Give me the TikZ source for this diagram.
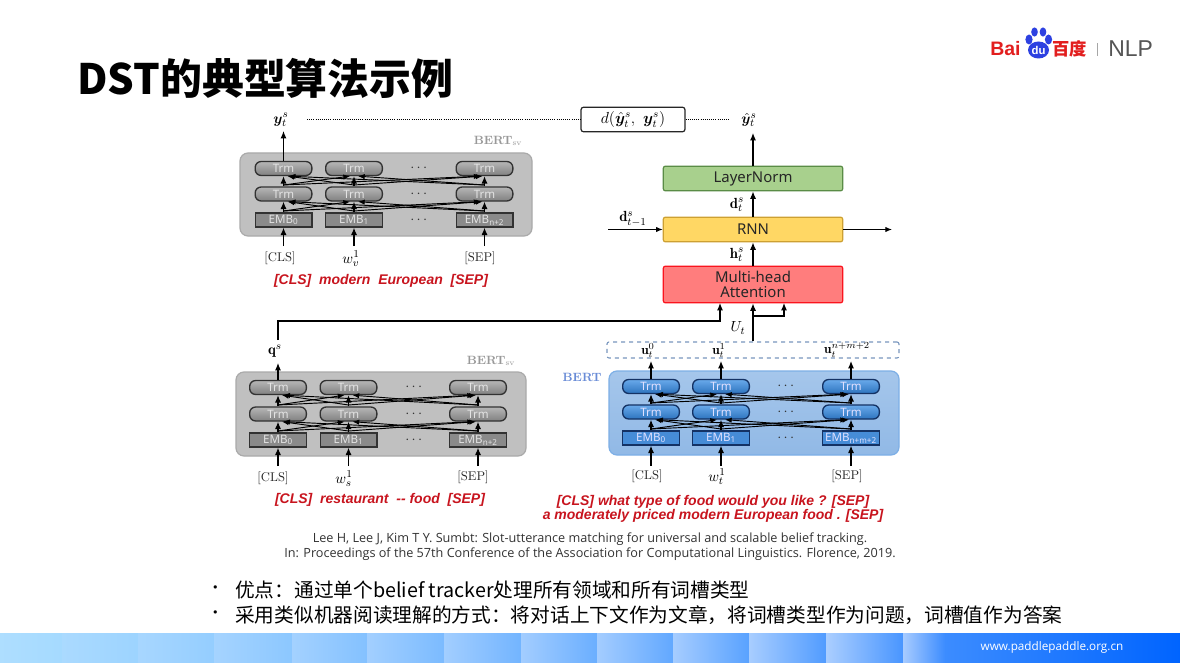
\documentclass[tikz,border=0pt]{standalone}
\usepackage{amsmath,bm}
\usepackage{fontspec}
\usetikzlibrary{arrows.meta,calc}
\newfontfamily\cjkfont{Noto Sans CJK SC}
\newfontfamily\labfont{Noto Sans}
\newfontfamily\arialfont{Liberation Sans}
\newfontfamily\citefont{Open Sans}
\definecolor{redtxt}{RGB}{200,20,30}
\definecolor{grayP}{RGB}{192,192,192}
\definecolor{grayPb}{RGB}{170,170,170}
\definecolor{grayT}{RGB}{158,158,158}
\definecolor{grayB}{RGB}{128,128,128}
\definecolor{grayE}{RGB}{138,138,138}
\definecolor{blueT}{RGB}{105,170,235}
\definecolor{blueB}{RGB}{45,115,190}
\definecolor{blueE}{RGB}{70,140,215}
\definecolor{blueP}{RGB}{165,198,235}
\definecolor{bluePb}{RGB}{125,175,230}
\definecolor{blueQ}{RGB}{145,185,230}
\definecolor{blueD}{RGB}{120,150,190}
\definecolor{blueL}{RGB}{105,140,215}
\definecolor{inkgray}{RGB}{50,50,50}
\definecolor{inkblue}{RGB}{20,50,100}
\definecolor{baiduRed}{RGB}{226,30,30}
\definecolor{baiduBlue}{RGB}{45,65,225}
\definecolor{nlpGray}{RGB}{85,85,85}
\definecolor{stripA}{RGB}{165,218,255}
\definecolor{stripB}{RGB}{60,140,255}
\definecolor{stripC}{RGB}{0,100,255}
\definecolor{mhaF}{RGB}{255,125,125}
\definecolor{mhaD}{RGB}{250,20,30}
\definecolor{rnnF}{RGB}{255,215,100}
\definecolor{rnnD}{RGB}{205,160,50}
\definecolor{lnF}{RGB}{168,208,141}
\definecolor{lnD}{RGB}{90,140,70}
\tikzset{
  arr/.style={draw=black,line width=0.85pt,-{Latex[length=5.5pt,width=4.5pt]}},
  thin arr/.style={draw=black,line width=0.7pt,-{Latex[length=5pt,width=4pt]}},
  trm gray/.style={draw=inkgray,line width=1pt,rounded corners=4.5pt,top color=grayT!75!white,bottom color=grayB,minimum width=42.5pt,minimum height=10.5pt,inner sep=0pt,text=white!78!gray,font=\labfont\fontsize{8.7}{9}\selectfont},
  emb gray/.style={draw=inkgray,line width=1pt,fill=grayE,minimum width=42.5pt,minimum height=10.5pt,inner sep=0pt,text=white!78!gray,font=\labfont\fontsize{8.7}{9}\selectfont},
  trm blue/.style={draw=inkblue,line width=1pt,rounded corners=4.5pt,top color=blueT,bottom color=blueB,minimum width=42.5pt,minimum height=10.5pt,inner sep=0pt,text=white!88!blue,font=\labfont\fontsize{8.7}{9}\selectfont},
  emb blue/.style={draw=inkblue,line width=1pt,fill=blueE,minimum width=42.5pt,minimum height=10.5pt,inner sep=0pt,text=white!88!blue,font=\labfont\fontsize{8.7}{9}\selectfont},
  gray panel/.style={draw=grayPb,line width=0.9pt,rounded corners=6pt,fill=grayP},
  blue panel/.style={draw=bluePb,line width=0.9pt,rounded corners=6pt,top color=blueP,bottom color=blueQ},
  serif lab/.style={font=\fontsize{9.5}{10}\selectfont,text=black!85,inner sep=0pt},
  bert lab/.style={font=\fontsize{9}{10}\selectfont\bfseries,inner sep=0pt},
  red lab/.style={font=\arialfont\bfseries\itshape\fontsize{10.5}{10.6}\selectfont,text=redtxt,inner sep=0pt,align=center},
  math lab/.style={inner sep=0pt,font=\fontsize{11}{12}\selectfont},
  small math/.style={inner sep=0pt,font=\fontsize{10}{11}\selectfont},
  dots lab/.style={inner sep=0pt,font=\fontsize{11}{12}\selectfont,text=inkgray},
  main box/.style={line width=0.9pt,rounded corners=1.5pt,minimum width=134.5pt,inner sep=0pt,align=center,text=black!85,font=\labfont\fontsize{11.2}{10.8}\selectfont},
}
% #1 prefix, #2-#4 column x, #5-#7 row y, #8 colour word, #9 last EMB label
\newcommand{\bertblock}[9]{%
  \node[trm #8] (#1a3) at (#2,#5) {Trm};
  \node[trm #8] (#1b3) at (#3,#5) {Trm};
  \node[trm #8] (#1c3) at (#4,#5) {Trm};
  \node[trm #8] (#1a2) at (#2,#6) {Trm};
  \node[trm #8] (#1b2) at (#3,#6) {Trm};
  \node[trm #8] (#1c2) at (#4,#6) {Trm};
  \node[emb #8] (#1a1) at (#2,#7) {EMB\textsubscript{0}};
  \node[emb #8] (#1b1) at (#3,#7) {EMB\textsubscript{1}};
  \node[emb #8] (#1c1) at (#4,#7) {EMB\textsubscript{#9}};
  \foreach \lo/\hi in {1/2,2/3}{
    \draw[arr] (#1a\lo.north) -- (#1a\hi.south);
    \draw[arr] (#1b\lo.north) -- (#1b\hi.south);
    \draw[arr] (#1c\lo.north) -- (#1c\hi.south);
    \draw[thin arr] ([yshift=1pt]#1a\lo.north) -- ([xshift=-3pt]#1b\hi.south);
    \draw[thin arr] ([yshift=1pt]#1a\lo.north) -- ([xshift=-3pt]#1c\hi.south);
    \draw[thin arr] ([yshift=1pt]#1b\lo.north) -- ([xshift=3pt]#1a\hi.south);
    \draw[thin arr] ([yshift=1pt]#1b\lo.north) -- ([xshift=-1.5pt]#1c\hi.south);
    \draw[thin arr] ([yshift=1pt]#1c\lo.north) -- ([xshift=4pt]#1a\hi.south);
    \draw[thin arr] ([yshift=1pt]#1c\lo.north) -- ([xshift=3pt]#1b\hi.south);
  }
}
\begin{document}
\begin{tikzpicture}[x=0.75pt,y=-0.75pt]
\useasboundingbox (0,0) rectangle (1180,663);
\fill[white] (0,0) rectangle (1180,663);
% footer strip
\foreach \xa/\xb/\t/\l in {0/62/100/90,62/138/92/86,138/214/84/82,214/292/76/78,292/367/68/74,367/444/60/70,444/521/52/66,521/597/44/62,597/673/36/58,673/749/28/54,749/826/20/50,826/903/12/46}{
  \colorlet{segbase}{stripA!\t!stripB}
  \shade[left color=segbase!\l!white,right color=segbase] (\xa,633) rectangle (\xb,663);
}
\shade[left color=stripB!45!white,right color=stripB] (903,633) rectangle (945,663);
\shade[left color=stripB,right color=stripC] (945,633) rectangle (1180,663);
\node[inner sep=0pt,text=white,font=\citefont\fontsize{8.8}{9}\selectfont] (site) at (1052,647) {www.paddlepaddle.org.cn};
% title
\node[anchor=west,inner sep=0pt,font=\cjkfont\bfseries\fontsize{31.4}{36}\selectfont] (title) at (77,78) {DST的典型算法示例};
% logo
\node[anchor=west,inner sep=0pt,text=baiduRed,font=\arialfont\bfseries\fontsize{14.6}{16}\selectfont] (bai) at (990,49) {Bai};
\fill[baiduBlue] (1038.5,50) ellipse (10.5 and 8.5);
\fill[baiduBlue] (1029,39.5) ellipse (3.6 and 5);
\fill[baiduBlue] (1034.5,32) ellipse (3.3 and 4.6);
\fill[baiduBlue] (1043,32) ellipse (3.3 and 4.6);
\fill[baiduBlue] (1048.5,39.5) ellipse (3.6 and 5);
\node[inner sep=0pt,text=white,font=\arialfont\bfseries\fontsize{8.5}{9}\selectfont] (du) at (1038.5,50) {du};
\node[anchor=west,inner sep=0pt,text=baiduRed,font=\cjkfont\bfseries\fontsize{13}{15}\selectfont] (baidu) at (1052,49) {百度};
\fill[gray!70] (1096.5,43) rectangle (1098,56);
\node[anchor=west,inner sep=0pt,text=nlpGray,font=\arialfont\fontsize{17.2}{18}\selectfont] (nlp) at (1108,49) {NLP};
% panels
\draw[gray panel] (240,153) rectangle (532,236);
\draw[gray panel] (236,372) rectangle (526,456);
\draw[blue panel] (609,371) rectangle (899,455);
% BERT blocks
\bertblock{A}{283.5}{354}{484.5}{168.5}{194}{220}{gray}{n+2}
\bertblock{B}{278}{348.5}{478}{387.5}{414}{440}{gray}{n+2}
\bertblock{C}{651}{721}{851}{386.5}{412}{438}{blue}{n+m+2}
\foreach \nm/\dx/\dy in {Adt/420/168.5,Adm/420/194,Ade/420/220,Bdt/415/387.5,Bdm/415/414,Bde/415/440,Cdt/787/386.5,Cdm/787/412,Cde/787/438}{
  \node[dots lab] (\nm) at (\dx,\dy) {$\cdots$};
}
% inputs
\node[serif lab] (Ai1) at (280,258) {[CLS]};
\node[math lab] (Ai2) at (351,259) {$w_v^1$};
\node[serif lab] (Ai3) at (480,258) {[SEP]};
\node[serif lab] (Bi1) at (273,478) {[CLS]};
\node[math lab] (Bi2) at (344,479) {$w_s^1$};
\node[serif lab] (Bi3) at (473,477) {[SEP]};
\node[serif lab] (Ci1) at (647,476) {[CLS]};
\node[math lab] (Ci2) at (717,477) {$w_t^1$};
\node[serif lab] (Ci3) at (847,476) {[SEP]};
\foreach \nm/\dx/\dy in {Aa/283.5/246,Ab/354/246,Ac/484.5/246,Ba/278/466,Bb/348.5/466,Bc/478/466,Ca/651/466,Cb/721/466,Cc/851/466}{
  \coordinate (\nm in) at (\dx,\dy);
  \draw[arr] (\nm in) -- (\nm1.south);
}
% red captions
\node[red lab] (capA) at (381,280.5) {[CLS]\ \ modern\ \ European\ \ [SEP]};
\node[red lab] (capB) at (380,499.5) {[CLS]\ \ restaurant\ \ -- food\ \ [SEP]};
\node[red lab] (capC) at (713,508.5) {[CLS] what type of food would you like ? [SEP]\\ a moderately priced modern European food . [SEP]};
% BERT titles
\node[bert lab,text=gray!80] (tA) at (498,141) {BERT$_{\mathrm{sv}}$};
\node[bert lab,text=gray!80] (tB) at (491,361) {BERT$_{\mathrm{sv}}$};
\node[bert lab,text=blueL] (tC) at (582,377) {BERT};
% outputs
\node[math lab] (yt) at (281,120) {$\bm{y}_t^s$};
\coordinate (ytend) at (283.5,131);
\draw[arr] (Aa3.north) -- (ytend);
\node[math lab] (qs) at (275,351) {$\mathbf{q}^s$};
\coordinate (qsend) at (278,363);
\draw[arr] (Ba3.north) -- (qsend);
% dashed box
\node[draw=blueD,dashed,line width=0.8pt,rounded corners=1.5pt,minimum width=219pt,minimum height=12pt,inner sep=0pt] (ubox) at (753,350) {};
\node[small math] (u0) at (648,350.5) {$\mathbf{u}_t^0$};
\node[small math] (u1) at (719,350.5) {$\mathbf{u}_t^1$};
\node[small math] (u2) at (847,349.5) {$\mathbf{u}_t^{n+m+2}$};
\coordinate (ua) at (651,361);
\coordinate (ub) at (721,361);
\coordinate (uc) at (851,361);
\draw[arr] (Ca3.north) -- (ua);
\draw[arr] (Cb3.north) -- (ub);
\draw[arr] (Cc3.north) -- (uc);
% main stack
\node[main box,draw=mhaD,fill=mhaF,minimum height=27.5pt] (mha) at (753,284.5) {Multi-head\\Attention};
\node[main box,draw=rnnD,fill=rnnF,minimum height=18.5pt] (rnn) at (753,229.5) {\raisebox{-0.8pt}{RNN}};
\node[main box,draw=lnD,fill=lnF,minimum height=18.5pt] (ln) at (753,178.5) {\raisebox{-1.2pt}{LayerNorm}};
\draw[arr] (mha.north) -- (rnn.south);
\draw[arr] (rnn.north) -- (ln.south);
\coordinate (yhatend) at (753,133);
\draw[arr] (ln.north) -- (yhatend);
\node[math lab] (hts) at (737,255) {$\mathbf{h}_t^s$};
\node[math lab] (dts) at (737,205) {$\mathbf{d}_t^s$};
\node[math lab] (dprev) at (633,219) {$\mathbf{d}_{t-1}^s$};
\coordinate (rin) at (608,229.5);
\coordinate (rout) at (892,229.5);
\draw[thin arr] (rin) -- (rnn.west);
\draw[thin arr] (rnn.east) -- (rout);
\node[math lab] (ut) at (738,328) {$U_t$};
\draw[arr] (ubox.north) -- (mha.south);
\coordinate (branch) at (753,316);
\coordinate (bcorner) at (784,316);
\coordinate (bend) at (784,303);
\draw[arr] (branch) -- (bcorner) -- (bend);
\coordinate (qstart) at (278,340);
\coordinate (qa) at (278,321);
\coordinate (qb) at (720,321);
\coordinate (qc) at (720,303);
\draw[arr] (qstart) -- (qa) -- (qb) -- (qc);
% distance
\node[draw=black!85,line width=0.9pt,rounded corners=2pt,minimum width=78pt,minimum height=18.5pt,inner sep=0pt,font=\fontsize{12}{13}\selectfont] (dist) at (633,119.5) {$d(\hat{\bm{y}}_t^s,\ \bm{y}_t^s)$};
\node[math lab] (yhat) at (749,120) {$\hat{\bm{y}}_t^s$};
\coordinate (dotstart) at (307,119.5);
\coordinate (dotend) at (730,119.5);
\draw[densely dotted,line width=0.6pt] (dotstart) -- (dist.west);
\draw[densely dotted,line width=0.6pt] (dist.east) -- (dotend);
% citation
\node[inner sep=0pt,align=center,text=black!80,font=\citefont\fontsize{9.5}{11.2}\selectfont] (cite) at (590,546.5) {Lee H, Lee J, Kim T Y. Sumbt: Slot-utterance matching for universal and scalable belief tracking.\\In: Proceedings of the 57th Conference of the Association for Computational Linguistics. Florence, 2019.};
% bullets
\node[anchor=west,inner sep=0pt,font=\cjkfont\fontsize{12}{14}\selectfont] (d1) at (207,590) {•};
\node[anchor=west,inner sep=0pt,font=\cjkfont\fontsize{12}{14}\selectfont] (d2) at (207,615) {•};
\node[anchor=west,inner sep=0pt,font=\cjkfont\fontsize{14.77}{16}\selectfont] (b1) at (235,590) {优点：通过单个belief tracker处理所有领域和所有词槽类型};
\node[anchor=west,inner sep=0pt,font=\cjkfont\fontsize{14.77}{16}\selectfont] (b2) at (235,615) {采用类似机器阅读理解的方式：将对话上下文作为文章，将词槽类型作为问题，词槽值作为答案};
\end{tikzpicture}
\end{document}
